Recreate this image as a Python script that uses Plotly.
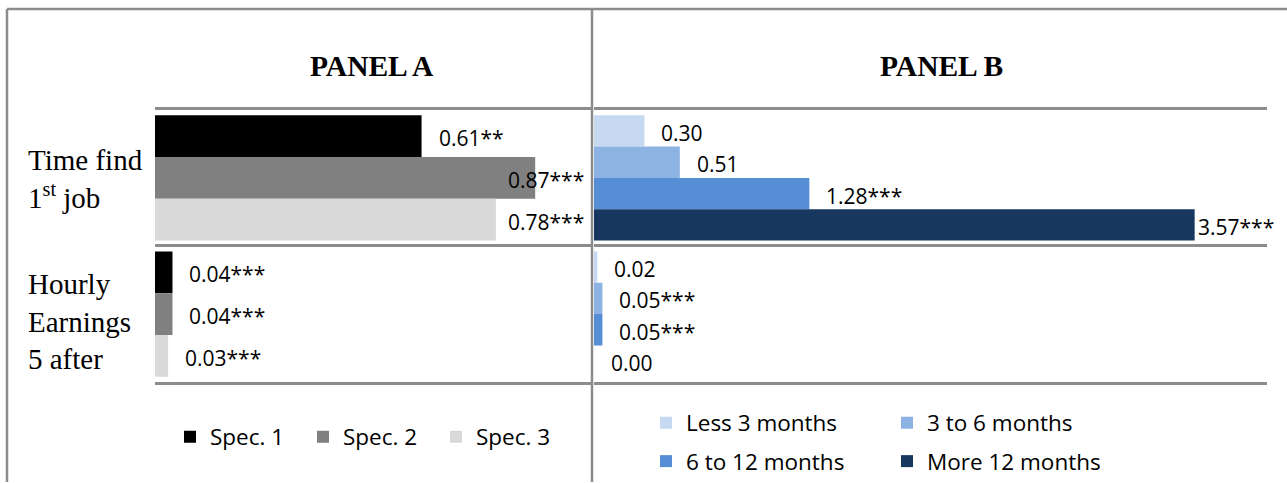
import plotly.graph_objects as go

# ---- data -------------------------------------------------------------
categories = ["Time find<br>1<sup>st</sup> job", "Hourly<br>Earnings<br>5 after"]

spec_names = ["Spec. 1", "Spec. 2", "Spec. 3"]
spec_values = [
    [0.61, 0.04],
    [0.87, 0.04],
    [0.78, 0.03],
]
spec_stars = [
    ["**", "***"],
    ["***", "***"],
    ["***", "***"],
]

dur_names = ["Less 3 months", "3 to 6 months", "6 to 12 months", "More 12 months"]
dur_values = [
    [0.30, 0.02],
    [0.51, 0.05],
    [1.28, 0.05],
    [3.57, 0.00],
]
dur_stars = [
    ["", ""],
    ["", "***"],
    ["***", "***"],
    ["***", ""],
]

# ---- styling ----------------------------------------------------------
W, H = 1287, 483
GRAY = "#8c8c8c"
SPEC_COLORS = ["#000000", "#808080", "#d9d9d9"]
DUR_COLORS = ["#c6d9f1", "#8db3e2", "#558ed5", "#17375e"]
SANS = "Open Sans"
SERIF = "Liberation Serif"
BARGAP = 0.08

def px_x(p):
    return p / W

def px_y(p):
    return 1 - p / H

PLOT_TOP, PLOT_BOTTOM = 110, 383
Y_DOMAIN = [px_y(PLOT_BOTTOM), px_y(PLOT_TOP)]
A_DOMAIN = [px_x(155), px_x(592)]
B_DOMAIN = [px_x(594), px_x(1267)]
A_RANGE = [0, 1.0]
B_RANGE = [0, 4.0]

fig = go.Figure()

for i, name in enumerate(spec_names):
    fig.add_trace(go.Bar(
        x=spec_values[i], y=[0, 1], orientation="h", name=name,
        marker=dict(color=SPEC_COLORS[i], line=dict(width=0)),
        xaxis="x", yaxis="y", legend="legend", hoverinfo="skip",
    ))

for i, name in enumerate(dur_names):
    fig.add_trace(go.Bar(
        x=dur_values[i], y=[0, 1], orientation="h", name=name,
        marker=dict(color=DUR_COLORS[i], line=dict(width=0)),
        xaxis="x2", yaxis="y2", legend="legend2" if i < 2 else "legend3",
        hoverinfo="skip",
    ))

# ---- value labels -----------------------------------------------------
def label_width(text):
    w = 0
    for ch in text:
        w += {"*": 11.5, ".": 5.7}.get(ch, 12.0)
    return w

def add_labels(values, stars, xref, yref, domain, xrange, edge_shift):
    n = len(values)
    dom_px = (domain[1] - domain[0]) * W
    scale = dom_px / (xrange[1] - xrange[0])
    slot = (1 - BARGAP) / n
    for i in range(n):
        for c, v in enumerate(values[i]):
            text = f"{v:.2f}{stars[i][c]}"
            yc = c - (1 - BARGAP) / 2 + slot * (i + 0.5)
            end_px = v * scale + 16 + label_width(text)
            font = dict(family=SANS, size=21, color="#000")
            if end_px > dom_px - 4:
                # label would run past the plot edge: pull it back inside
                fig.add_annotation(x=xrange[1], y=yc, xref=xref, yref=yref,
                                   text=text, showarrow=False, xanchor="right",
                                   yanchor="middle", xshift=edge_shift, yshift=-2,
                                   font=font)
            else:
                fig.add_annotation(x=v, y=yc, xref=xref, yref=yref,
                                   text=text, showarrow=False, xanchor="left",
                                   yanchor="middle", xshift=15, yshift=-2,
                                   font=font)

add_labels(spec_values, spec_stars, "x", "y", A_DOMAIN, A_RANGE, -6)
add_labels(dur_values, dur_stars, "x2", "y2", B_DOMAIN, B_RANGE, 9)

# ---- category labels and panel titles ---------------------------------
for c, (label, shift) in enumerate(zip(categories, [-1, -7])):
    fig.add_annotation(x=px_x(26), y=c, xref="paper", yref="y", text=label,
                       showarrow=False, xanchor="left", yanchor="middle",
                       align="left", yshift=shift,
                       font=dict(family=SERIF, size=29, color="#000"))

for title, cx in [("PANEL A", 372), ("PANEL B", 941)]:
    fig.add_annotation(x=px_x(cx), y=px_y(66), xref="paper", yref="paper",
                       text=f"<b>{title}</b>", showarrow=False,
                       xanchor="center", yanchor="middle",
                       font=dict(family=SERIF, size=29.5, color="#000"))

# ---- frame ------------------------------------------------------------
frame = dict(type="line", xref="paper", yref="paper", line=dict(color=GRAY, width=2.5))
fig.add_shape(**frame, x0=px_x(7), x1=1, y0=px_y(9), y1=px_y(9))
fig.add_shape(**frame, x0=px_x(7), x1=px_x(7), y0=0, y1=px_y(9))
fig.add_shape(**frame, x0=px_x(592), x1=px_x(592), y0=0, y1=px_y(9))

# ---- axes -------------------------------------------------------------
xcommon = dict(showline=True, mirror=True, linecolor=GRAY, linewidth=2.5,
               showgrid=False, zeroline=False, showticklabels=False, ticks="",
               fixedrange=True)
ycommon = dict(range=[1.5, -0.5], tickmode="array", tickvals=[0.5],
               showgrid=True, gridcolor=GRAY, gridwidth=2.5, zeroline=False,
               showticklabels=False, ticks="", showline=False, domain=Y_DOMAIN,
               fixedrange=True)

legend_common = dict(orientation="h", yanchor="middle", xanchor="left",
                     bgcolor="rgba(0,0,0,0)", borderwidth=0,
                     font=dict(family=SANS, size=22.5, color="#000"),
                     traceorder="normal")

fig.update_layout(
    width=W, height=H, autosize=False,
    margin=dict(l=0, r=0, t=0, b=0),
    paper_bgcolor="white", plot_bgcolor="white",
    barmode="group", bargap=BARGAP, bargroupgap=0,
    xaxis=dict(**xcommon, domain=A_DOMAIN, range=A_RANGE, anchor="y"),
    yaxis=dict(**ycommon, anchor="x"),
    xaxis2=dict(**xcommon, domain=B_DOMAIN, range=B_RANGE, anchor="y2"),
    yaxis2=dict(**ycommon, anchor="x2"),
    legend=dict(**legend_common, x=px_x(170), y=px_y(437), entrywidth=88),
    legend2=dict(**legend_common, x=px_x(646), y=px_y(423), entrywidth=196),
    legend3=dict(**legend_common, x=px_x(646), y=px_y(462), entrywidth=196),
    showlegend=True,
)

fig.write_html("out.html")
